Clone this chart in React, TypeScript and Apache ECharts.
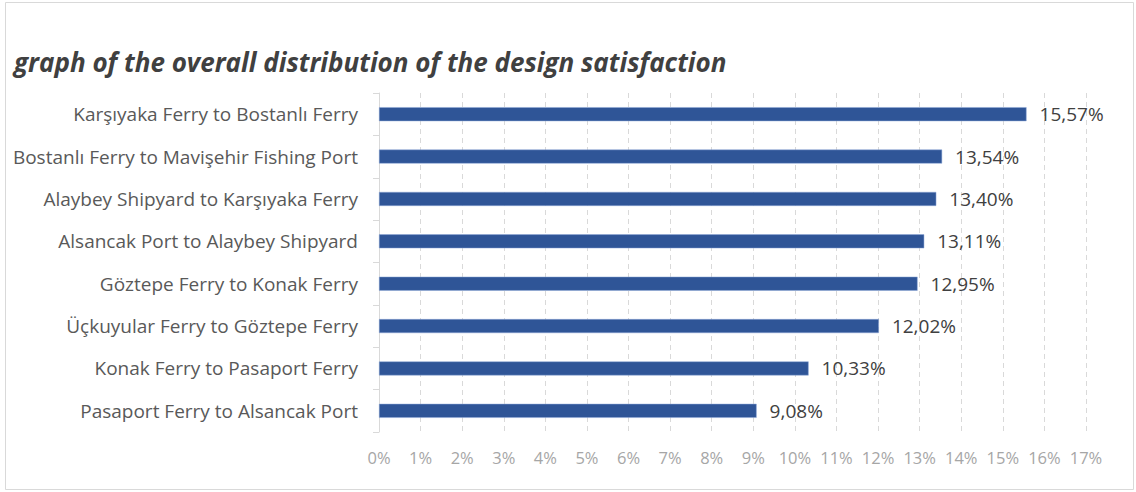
import React, { useEffect, useRef } from "react";
import * as echarts from "echarts";

const categories = [
  "Karşıyaka Ferry to Bostanlı Ferry",
  "Bostanlı Ferry to Mavişehir Fishing Port",
  "Alaybey Shipyard to Karşıyaka Ferry",
  "Alsancak Port to Alaybey Shipyard",
  "Göztepe Ferry to Konak Ferry",
  "Üçkuyular Ferry to Göztepe Ferry",
  "Konak Ferry to Pasaport Ferry",
  "Pasaport Ferry to Alsancak Port",
];
const values = [15.57, 13.54, 13.4, 13.11, 12.95, 12.02, 10.33, 9.08];
const titleText = "graph of the overall distribution of the design satisfaction";

export default function App() {
  const ref = useRef<HTMLDivElement>(null);
  useEffect(() => {
    if (!ref.current) return;
    const chart = echarts.init(ref.current, null, { renderer: "svg" });
    const font = "'Open Sans', sans-serif";
    chart.setOption({
      animation: false,
      backgroundColor: "#ffffff",
      textStyle: { fontFamily: font },
      title: {
        text: titleText,
        left: 9,
        top: 44,
        textStyle: {
          fontFamily: font,
          fontSize: 26,
          fontStyle: "italic",
          fontWeight: "bold",
          color: "#404040",
        },
      },
      graphic: [
        {
          type: "rect",
          shape: { x: 5.5, y: 2.5, width: 1128, height: 487 },
          style: { fill: "none", stroke: "#d9d9d9", lineWidth: 1 },
          silent: true,
        },
      ],
      grid: { left: 379, right: 50, top: 93, bottom: 60 },
      xAxis: {
        type: "value",
        min: 0,
        max: 17,
        interval: 1,
        axisLine: { show: false },
        axisTick: { show: false },
        axisLabel: {
          formatter: (v: number) => `${v}%`,
          color: "#a6a6a6",
          fontSize: 16.5,
          margin: 17,
          fontFamily: font,
        },
        splitLine: { show: true, lineStyle: { color: "#d9d9d9", type: [5, 4] } },
      },
      yAxis: {
        type: "category",
        data: categories,
        inverse: true,
        axisLine: { show: true, lineStyle: { color: "#d9d9d9" } },
        axisTick: { show: true, length: 6, lineStyle: { color: "#d9d9d9" } },
        axisLabel: { color: "#595959", fontSize: 19, margin: 21, fontFamily: font },
      },
      series: [
        {
          type: "bar",
          data: values,
          barWidth: 14,
          itemStyle: { color: "#2F5597", borderColor: "#8fa9d8", borderWidth: 0.5 },
          label: {
            show: true,
            position: "right",
            distance: 13,
            color: "#404040",
            fontSize: 19,
            fontFamily: font,
            formatter: (p: any) => p.value.toFixed(2).replace(".", ",") + "%",
          },
        },
      ],
    });
    return () => chart.dispose();
  }, []);
  return (
    <div
      ref={ref}
      style={{ position: "absolute", left: 0, top: 0, width: 1136, height: 492 }}
    />
  );
}
